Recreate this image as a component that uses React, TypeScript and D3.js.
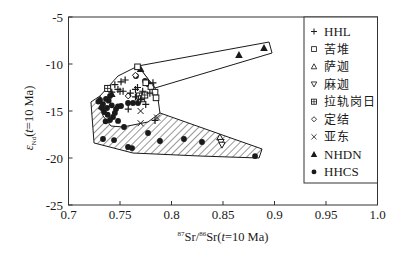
import React from 'react';
import * as d3 from 'd3';

const width = 399;
const height = 258;
const left = 68.5;
const right = 377.5;
const top = 17;
const bottom = 205;

const xTicks = [0.7, 0.75, 0.8, 0.85, 0.9, 0.95, 1.0];
const xTickLabels = ['0.7', '0.75', '0.8', '0.85', '0.9', '0.95', '1.0'];
const yTicks = [-5, -10, -15, -20, -25];

// fields
const hhcsField: [number, number][] = [
  [0.7218, -14.04], [0.7306, -13.4], [0.7888, -15.21], [0.8879, -19.04],
  [0.885, -20.0], [0.8277, -19.79], [0.7626, -19.47], [0.7248, -18.4],
];
const hhlField: [number, number][] = [
  [0.748, -11.28], [0.7675, -10.21], [0.784, -12.55], [0.7869, -13.72],
  [0.7888, -15.21], [0.7772, -16.17], [0.7529, -16.7], [0.7413, -16.6],
  [0.7335, -15.53], [0.7306, -13.4],
];
const nhdnField: [number, number][] = [
  [0.7675, -10.21], [0.8947, -7.66], [0.8976, -8.83], [0.784, -12.55],
];

// samples
const hhl: [number, number][] = [
  [0.751, -11.9], [0.75, -12.9], [0.753, -12.9], [0.748, -12.7], [0.765, -12.7],
  [0.765, -13.5], [0.772, -12.9], [0.775, -14.3], [0.758, -14.8], [0.755, -11.7],
  [0.767, -12.5], [0.779, -13.1], [0.784, -16.0], [0.77, -13.8], [0.745, -12.2],
  [0.742, -13.0], [0.76, -13.1], [0.782, -12.0],
];
const kudui: [number, number][] = [
  [0.767, -10.3], [0.78, -12.4], [0.784, -13.0], [0.785, -13.6], [0.775, -12.0],
];
const saga: [number, number][] = [[0.847, -17.8]];
const majia: [number, number][] = [[0.848, -18.3], [0.849, -18.6]];
const lagoi: [number, number][] = [[0.738, -12.6], [0.769, -13.4], [0.771, -13.7], [0.774, -13.3]];
const dingjie: [number, number][] = [[0.765, -11.2], [0.758, -13.4]];
const yadong: [number, number][] = [[0.77, -15.0], [0.77, -16.3], [0.786, -15.7]];
const nhdn: [number, number][] = [
  [0.8655, -9.04], [0.8898, -8.3], [0.77, -10.53], [0.742, -13.2], [0.732, -14.5],
];
const hhcs: [number, number][] = [
  [0.7539, -16.7], [0.7335, -17.98], [0.7442, -18.09], [0.7578, -18.83], [0.7617, -18.94],
  [0.7772, -17.34], [0.7888, -18.19], [0.8121, -17.98], [0.8296, -18.3], [0.8811, -19.79],
  [0.7364, -13.72], [0.7335, -14.26], [0.7403, -13.4], [0.751, -14.47], [0.7461, -14.79],
  [0.7432, -15.64], [0.7578, -14.15], [0.7626, -14.15], [0.7675, -14.15], [0.7655, -11.28],
  [0.7743, -11.81], [0.7772, -12.13], [0.7345, -15.11], [0.7374, -14.68], [0.7403, -15.96],
  [0.7481, -16.06], [0.7306, -13.83], [0.7325, -14.68], [0.729, -14.0], [0.738, -15.4],
  [0.745, -15.2], [0.742, -14.4], [0.739, -13.9], [0.748, -14.5], [0.736, -16.1],
];

const legendNames = ['HHL', '苦堆', '萨迦', '麻迦', '拉轨岗日', '定结', '亚东', 'NHDN', 'HHCS'];
const legendKinds = ['plus', 'square', 'triUp', 'triDown', 'boxPlus', 'diamond', 'cross', 'triFill', 'dot'];

const x = d3.scaleLinear().domain([0.7, 1.0]).range([left, right]);
const y = d3.scaleLinear().domain([-25, -5]).range([bottom, top]);

const ink = '#1a1a1a';
const serif = '"Liberation Serif", "DejaVu Serif", serif';
const cjk = '"Noto Sans CJK SC", sans-serif';

function Marker({ kind, cx, cy, s = 1 }: { kind: string; cx: number; cy: number; s?: number }) {
  const t = `translate(${cx},${cy}) scale(${s})`;
  switch (kind) {
    case 'plus':
      return <path transform={t} d="M-3.5,0H3.5M0,-3.5V3.5" stroke={ink} strokeWidth={1.2} />;
    case 'cross':
      return <path transform={t} d="M-3,-3L3,3M-3,3L3,-3" stroke={ink} strokeWidth={1} />;
    case 'square':
      return <rect transform={t} x={-2.8} y={-2.8} width={5.6} height={5.6} fill="white" stroke={ink} strokeWidth={1} />;
    case 'boxPlus':
      return (
        <g transform={t}>
          <rect x={-3} y={-3} width={6} height={6} fill="white" stroke={ink} strokeWidth={1} />
          <path d="M-3,0H3M0,-3V3" stroke={ink} strokeWidth={0.8} />
        </g>
      );
    case 'triUp':
      return <path transform={t} d="M0,-3.3L3.2,2.6H-3.2Z" fill="white" stroke={ink} strokeWidth={1} />;
    case 'triDown':
      return <path transform={t} d="M0,3.3L3.2,-2.6H-3.2Z" fill="white" stroke={ink} strokeWidth={1} />;
    case 'diamond':
      return <path transform={t} d="M0,-3L3,0L0,3L-3,0Z" fill="white" stroke={ink} strokeWidth={1} />;
    case 'triFill':
      return <path transform={t} d="M0,-4L3.8,3H-3.8Z" fill={ink} />;
    default:
      return <circle transform={t} r={2.9} fill={ink} />;
  }
}

export default function App() {
  const line = d3.line<[number, number]>().x(d => x(d[0])).y(d => y(d[1])).curve(d3.curveLinearClosed);
  const series: [string, [number, number][]][] = [
    ['dot', hhcs], ['triFill', nhdn], ['square', kudui], ['boxPlus', lagoi], ['diamond', dingjie],
    ['cross', yadong], ['triUp', saga], ['triDown', majia], ['plus', hhl],
  ];
  return (
    <svg width={width} height={height} style={{ position: 'absolute', left: 0, top: 0, background: 'white' }}>
      <defs>
        <pattern id="hatch" patternUnits="userSpaceOnUse" width={5} height={5} patternTransform="rotate(45)">
          <line x1={0} y1={0} x2={0} y2={5} stroke={ink} strokeWidth={0.9} />
        </pattern>
      </defs>
      <path d={line(hhcsField) ?? ''} fill="url(#hatch)" stroke={ink} strokeWidth={1} />
      <path d={line(nhdnField) ?? ''} fill="white" stroke={ink} strokeWidth={1} />
      <path d={line(hhlField) ?? ''} fill="white" stroke={ink} strokeWidth={1} />
      {series.map(([kind, pts]) =>
        pts.map((p, i) => <Marker key={kind + i} kind={kind} cx={x(p[0])} cy={y(p[1])} />)
      )}
      <rect x={left} y={top} width={right - left} height={bottom - top} fill="none" stroke="#333" strokeWidth={1} />
      {xTicks.map((t, i) => (
        <g key={t}>
          <line x1={x(t)} x2={x(t)} y1={bottom} y2={bottom - 4} stroke="#333" />
          <text x={x(t)} y={219} textAnchor="middle" fontFamily={serif} fontSize={13} fill={ink}>{xTickLabels[i]}</text>
        </g>
      ))}
      {yTicks.map(t => (
        <g key={t}>
          <line x1={left} x2={left + 4} y1={y(t)} y2={y(t)} stroke="#333" />
          <text x={63} y={y(t) + 4.5} textAnchor="end" fontFamily={serif} fontSize={13} fill={ink}>{t}</text>
        </g>
      ))}
      <text x={223} y={241} textAnchor="middle" fontFamily={serif} fontSize={12.5} fill={ink}>
        <tspan fontSize={7} dy={-5}>87</tspan>
        <tspan dy={5}>Sr/</tspan>
        <tspan fontSize={7} dy={-5}>86</tspan>
        <tspan dy={5}>Sr(</tspan>
        <tspan fontStyle="italic">t</tspan>
        <tspan>=10 Ma)</tspan>
      </text>
      <text transform="translate(33,118) rotate(-90)" textAnchor="middle" fontFamily={serif} fontSize={12.5} fill={ink}>
        <tspan fontStyle="italic">ε</tspan>
        <tspan fontSize={7} dy={3}>Nd</tspan>
        <tspan dy={-3}>(</tspan>
        <tspan fontStyle="italic">t</tspan>
        <tspan>=10 Ma)</tspan>
      </text>
      <rect x={304} y={top} width={right - 304} height={183 - top} fill="white" stroke="#333" strokeWidth={1} />
      {legendNames.map((name, i) => {
        const cy = 31.5 + i * 17.55;
        const latin = /^[A-Z]+$/.test(name);
        return (
          <g key={name}>
            <Marker kind={legendKinds[i]} cx={314} cy={cy} s={0.85} />
            <text x={324} y={cy + 4.5} fontFamily={latin ? serif : cjk} fontSize={latin ? 13 : 12}
              letterSpacing={latin ? 0 : 1} fill={ink}>{name}</text>
          </g>
        );
      })}
    </svg>
  );
}
